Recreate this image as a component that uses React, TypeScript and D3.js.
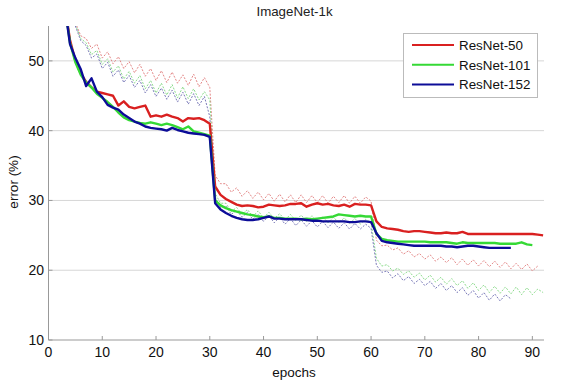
import React from 'react';
import * as d3 from 'd3';

// solid curves (val error), one value per epoch
const red50Start = 3;
const red50 = [
  58, 53, 50, 48.2, 47, 46.2, 45.6, 45.4, 45.2, 45.0, 43.6, 44.2, 43.4, 43.2, 43.4, 43.6, 42.0, 42.2, 42.0, 42.3,
  42.0, 41.8, 41.3, 41.8, 41.7, 41.8, 41.5, 41.0,
  32.0, 30.8, 30.2, 29.8, 29.4, 29.2, 29.3, 29.2, 29.0, 29.1, 29.4, 29.3, 29.2, 29.3, 29.5, 29.5, 29.6, 29.1,
  29.4, 29.6, 29.4, 29.5, 29.3, 29.2, 29.4, 29.1, 29.5, 29.4, 29.4, 29.3,
  27.0, 26.2, 26.0, 25.9, 25.8, 25.6, 25.5, 25.6, 25.6, 25.5, 25.4, 25.3, 25.3, 25.4, 25.3, 25.3, 25.5, 25.2,
  25.2, 25.2, 25.2, 25.2, 25.2, 25.2, 25.2, 25.2, 25.2, 25.2, 25.2, 25.2, 25.1, 25.0,
];
const green101Start = 3;
const green101 = [
  58, 52.6, 49.8, 48.0, 46.9, 46.2, 45.3, 44.7, 44.1, 43.4, 42.6, 41.9, 41.5, 41.3, 41.1, 41.0, 41.2, 41.0, 40.8,
  41.0, 40.8, 40.5, 40.2, 40.6, 39.9, 39.7, 39.5, 39.3,
  30.0, 29.3, 28.9, 28.6, 28.4, 28.2, 28.0, 27.9, 27.7, 27.6, 27.7, 27.5, 27.5, 27.4, 27.4, 27.4, 27.3, 27.4,
  27.3, 27.4, 27.5, 27.6, 27.7, 28.0, 27.9, 27.8, 27.7, 27.8, 27.7, 27.7,
  25.2, 24.5, 24.3, 24.2, 24.1, 24.1, 24.1, 24.1, 24.1, 24.1, 24.0, 24.0, 24.0, 24.0, 23.9, 23.8, 24.0, 23.9,
  23.9, 23.9, 23.9, 23.9, 23.9, 23.8, 23.8, 23.8, 23.8, 24.0, 23.7, 23.6,
];
const blue152Start = 3;
const blue152 = [
  58, 52.4, 50.4, 48.8, 46.4, 47.5, 45.6, 44.8, 43.7, 43.3, 43.0, 42.3, 41.8, 41.3, 41.0, 40.6, 40.4, 40.3, 40.2,
  40.0, 40.4, 40.1, 39.9, 39.7, 39.6, 39.5, 39.4, 39.1,
  29.6, 28.7, 28.2, 27.8, 27.5, 27.3, 27.2, 27.2, 27.3, 27.5, 27.7, 27.4, 27.4, 27.3, 27.3, 27.3, 27.3, 27.2,
  27.1, 27.1, 27.0, 27.0, 27.0, 27.0, 27.0, 26.9, 26.9, 27.0, 27.0, 26.9,
  25.3, 24.2, 24.0, 23.9, 23.8, 23.7, 23.6, 23.5, 23.5, 23.5, 23.5, 23.5, 23.5, 23.4, 23.4, 23.3, 23.4, 23.5,
  23.5, 23.4, 23.3, 23.2, 23.2, 23.2, 23.2, 23.2,
];

// dashed curves (training error)
const red50TrainStart = 5;
const red50Train = [
  55.5, 53.6, 53.2, 51.8, 52.4, 50.4, 51.3, 49.6, 50.6, 48.9, 49.9, 48.3, 49.5, 47.8, 48.9, 47.2, 48.6, 46.9,
  48.4, 46.8, 48.0, 46.5, 48.1, 46.3, 47.6, 46.2,
  33.6, 32.4, 32.4, 31.2, 31.8, 30.6, 31.4, 30.3, 31.2, 30.1, 31.0, 29.9, 30.9, 29.8, 30.8, 29.7, 30.8, 29.7,
  30.7, 29.7, 30.7, 29.6, 30.6, 29.7, 30.7, 29.6, 30.6, 29.6, 30.5, 29.9,
  24.3, 23.5, 23.6, 22.9, 23.2, 22.3, 22.8, 21.9, 22.4, 21.6, 22.2, 21.3, 21.9, 21.1, 21.8, 20.8, 21.6, 20.7,
  21.5, 20.6, 21.4, 20.5, 21.3, 20.4, 21.2, 20.2, 21.0, 20.1, 20.9, 19.9, 20.6,
];
const green101TrainStart = 5;
const green101Train = [
  55.2, 53.2, 52.6, 50.9, 51.5, 49.5, 50.3, 48.4, 49.3, 47.4, 48.5, 46.8, 47.9, 46.0, 47.2, 45.4, 46.8, 45.1,
  46.6, 44.7, 46.3, 44.6, 46.0, 44.4, 45.6, 44.4,
  31.0, 29.6, 29.6, 28.4, 29.0, 28.0, 28.7, 27.7, 28.5, 27.5, 28.3, 27.4, 28.1, 27.2, 28.0, 27.1, 27.9, 27.0,
  27.8, 26.9, 27.7, 26.8, 27.6, 26.8, 27.5, 26.7, 27.4, 26.6, 27.3, 26.8,
  21.7, 20.6, 20.8, 19.9, 20.3, 19.4, 19.9, 19.0, 19.6, 18.6, 19.3, 18.3, 19.0, 18.0, 18.8, 17.8, 18.5, 17.4,
  18.2, 17.1, 17.9, 16.8, 17.7, 16.7, 17.6, 16.6, 17.6, 16.5, 17.5, 16.5, 17.3, 16.8,
];
const blue152TrainStart = 5;
const blue152Train = [
  55.0, 52.9, 52.2, 50.4, 51.0, 48.9, 49.8, 47.8, 48.7, 46.9, 47.9, 46.2, 47.2, 45.4, 46.6, 44.9, 46.1, 44.5,
  45.8, 44.1, 45.5, 43.8, 45.3, 43.6, 44.9, 42.0,
  30.4, 29.0, 29.2, 28.0, 28.6, 27.6, 28.3, 27.3, 28.0, 27.0, 27.8, 26.8, 27.6, 26.6, 27.4, 26.4, 27.2, 26.3,
  27.1, 26.2, 27.0, 26.1, 26.9, 26.0, 26.8, 25.9, 26.7, 25.9, 26.6, 26.0,
  20.7, 19.7, 19.9, 18.9, 19.5, 18.5, 19.1, 18.1, 18.7, 17.8, 18.4, 17.4, 18.1, 17.1, 17.8, 16.8, 17.5, 16.4,
  17.1, 16.0, 16.8, 15.7, 16.6, 15.6, 16.5, 15.9,
];

const xTicks = [0, 10, 20, 30, 40, 50, 60, 70, 80, 90];
const yTicks = [10, 20, 30, 40, 50];
const legendNames = ['ResNet-50', 'ResNet-101', 'ResNet-152'];

const W = 579;
const H = 384;
const font = 'Liberation Sans, Arial, sans-serif';

const x = d3.scaleLinear().domain([0, 92]).range([48.5, 543.1]);
const y = d3.scaleLinear().domain([10, 55]).range([340, 26]);

const toPts = (start: number, vals: number[]) => vals.map((v, i) => [start + i, v] as [number, number]);
const line = d3.line<[number, number]>().x((d) => x(d[0])).y((d) => y(d[1]));

const solid = [
  { pts: toPts(red50Start, red50), color: '#d92020' },
  { pts: toPts(green101Start, green101), color: '#35d935' },
  { pts: toPts(blue152Start, blue152), color: '#0c0c98' },
];
const dashed = [
  { pts: toPts(red50TrainStart, red50Train), color: '#e07a7a' },
  { pts: toPts(green101TrainStart, green101Train), color: '#7fd67f' },
  { pts: toPts(blue152TrainStart, blue152Train), color: '#6b6bb0' },
];

export default function App() {
  const [x0, x1] = x.range();
  const [yb, yt] = y.range();
  return (
    <svg width={W} height={H} style={{ position: 'absolute', left: 0, top: 0, background: '#fff' }}>
      <defs>
        <clipPath id="plot">
          <rect x={x0} y={yt} width={x1 - x0 + 2} height={yb - yt} />
        </clipPath>
      </defs>
      <text x={294.5} y={16} textAnchor="middle" fontFamily={font} fontSize={13.3} fill="#222">ImageNet-1k</text>

      {/* grid */}
      {yTicks.filter((t) => t > 10).map((t) => (
        <line key={t} x1={x0} x2={544} y1={y(t)} y2={y(t)} stroke="#d6d6d6" strokeWidth={1} />
      ))}

      <g clipPath="url(#plot)">
        {dashed.map((s, i) => (
          <path key={'d' + i} d={line(s.pts) || ''} fill="none" stroke={s.color} strokeWidth={1}
            strokeDasharray="2,1.5" opacity={0.9} />
        ))}
        {solid.map((s, i) => (
          <path key={'s' + i} d={line(s.pts) || ''} fill="none" stroke={s.color} strokeWidth={2.4}
            strokeLinejoin="round" />
        ))}
      </g>

      {/* axes */}
      <line x1={x0} x2={x0} y1={yt} y2={yb} stroke="#999" />
      <line x1={x0} x2={544} y1={yb} y2={yb} stroke="#999" />
      {xTicks.map((t) => (
        <g key={t}>
          <line x1={x(t)} x2={x(t)} y1={yb} y2={yb - 4} stroke="#999" />
          <text x={x(t)} y={357} textAnchor="middle" fontFamily={font} fontSize={14} fill="#111">{t}</text>
        </g>
      ))}
      {yTicks.map((t) => (
        <g key={t}>
          <line x1={x0} x2={x0 + 4} y1={y(t)} y2={y(t)} stroke="#999" />
          <text x={44} y={y(t) + 5} textAnchor="end" fontFamily={font} fontSize={14} fill="#111">{t}</text>
        </g>
      ))}
      <text x={294} y={377} textAnchor="middle" fontFamily={font} fontSize={13.5} fill="#111">epochs</text>
      <text transform="translate(18,182) rotate(-90)" textAnchor="middle" fontFamily={font} fontSize={13.5} fill="#111">error (%)</text>

      {/* legend */}
      <rect x={403.5} y={33.5} width={134} height={64} fill="#fff" stroke="#bbb" />
      {legendNames.map((n, i) => (
        <g key={n}>
          <line x1={412} x2={454} y1={45 + i * 19.7} y2={45 + i * 19.7} stroke={solid[i].color} strokeWidth={2} />
          <text x={459} y={45 + i * 19.7 + 4.8} fontFamily={font} fontSize={13.4} fill="#111">{n}</text>
        </g>
      ))}
    </svg>
  );
}
